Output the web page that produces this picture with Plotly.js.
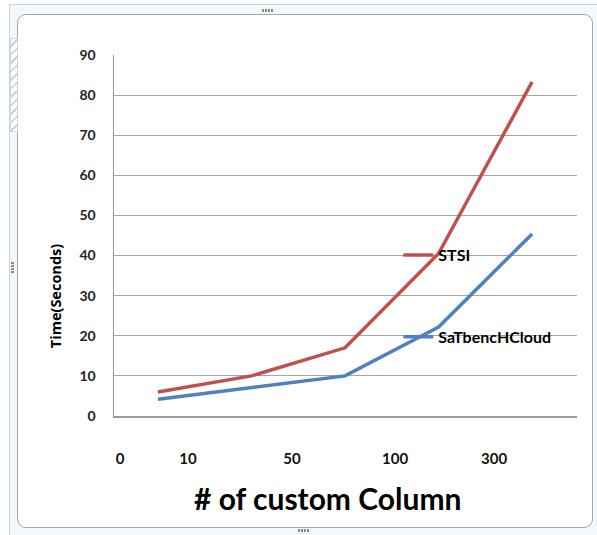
<!DOCTYPE html>
<html>
<head>
<meta charset="utf-8">
<script src="https://cdn.plot.ly/plotly-3.0.1.min.js"></script>
<style>
  html, body { margin: 0; padding: 0; background: #ffffff; }
  #wrap { position: relative; width: 597px; height: 535px; overflow: hidden; background: #ffffff; }
  #sheet { position: absolute; left: 9px; top: 4px; width: 600px; height: 540px; border-left: 1px solid #c9d7e2; border-top: 1px solid #c9d7e2; background: #f3f8fb; }
  #frame { position: absolute; left: 17px; top: 14px; width: 574px; height: 512px; border: 1px solid #a6a6a6; border-radius: 9px; background: #ffffff; }
  #hatch { position: absolute; left: 10px; top: 38px; width: 6px; height: 92px; border: 1px solid #c9d7e2;
           background: repeating-linear-gradient(135deg, #ffffff 0 4px, #c8d2da 4px 6px); }
  .dots { position: absolute; width: 12px; height: 3px; background: repeating-linear-gradient(90deg, #8a8a8a 0 2px, transparent 2px 3px); }
  .vdots { position: absolute; width: 3px; height: 12px; background: repeating-linear-gradient(180deg, #8a8a8a 0 2px, transparent 2px 3px); }
  #chart { position: absolute; left: 0; top: 0; width: 597px; height: 535px; }
</style>
</head>
<body>
<div id="wrap">
  <div id="sheet"></div>
  <div id="frame"></div>
  <div id="hatch"></div>
  <div class="dots" style="left:262px;top:9px;"></div>
  <div class="dots" style="left:298px;top:529px;"></div>
  <div class="vdots" style="left:11px;top:262px;"></div>
  <div id="chart"></div>
</div>
<script>
// ---- data ----
const categories = ["0", "10", "50", "100", "300"];
const pointIndex = [0, 1, 2, 3, 4];
const stsiTimes = [6, 10, 17, 40.5, 83.3];
const satbenchTimes = [4.2, 7.2, 10, 22.2, 45.4];
const seriesNames = ["STSI", "SaTbencHCloud"];
const yTickValues = [0, 10, 20, 30, 40, 50, 60, 70, 80, 90];

// ---- layout helpers (positions only) ----
const categoryTickPositions = [-0.406, 0.321, 1.433, 2.535, 3.594];

const traces = [
  {
    x: pointIndex, y: stsiTimes, name: seriesNames[0], type: "scatter", mode: "lines",
    line: { color: "#C0504D", width: 3.5 }, legendgroup: "a", hoverinfo: "y"
  },
  {
    x: pointIndex, y: satbenchTimes, name: seriesNames[1], type: "scatter", mode: "lines",
    line: { color: "#4F81BD", width: 3.5 }, legendgroup: "b", hoverinfo: "y"
  }
];

const layout = {
  width: 597, height: 535,
  margin: { l: 114, r: 20, t: 55, b: 119 },
  paper_bgcolor: "rgba(0,0,0,0)",
  plot_bgcolor: "rgba(0,0,0,0)",
  font: { family: "Lato, 'Open Sans', sans-serif", color: "#1a1a1a" },
  showlegend: true,
  legend: {
    x: 0.614, y: 0.493, xanchor: "left", yanchor: "top",
    bgcolor: "rgba(0,0,0,0)", borderwidth: 0,
    traceorder: "grouped", tracegroupgap: 58,
    font: { family: "Lato, sans-serif", size: 16, color: "#000000", weight: "bold" }
  },
  xaxis: {
    range: [-0.47, 4.48],
    tickmode: "array", tickvals: categoryTickPositions, ticktext: categories,
    ticks: "", showgrid: false, zeroline: false,
    showline: true, linecolor: "#9a9a9a", linewidth: 1.5,
    ticklabelstandoff: 28,
    tickfont: { family: "Lato, sans-serif", size: 15, color: "#111111", weight: "bold" },
    fixedrange: true
  },
  yaxis: {
    range: [0, 90],
    tickmode: "array", tickvals: yTickValues,
    ticks: "", showgrid: true, gridcolor: "#a6a6a6", gridwidth: 1.2,
    zeroline: false, showline: true, linecolor: "#9a9a9a", linewidth: 1.5,
    ticklabelstandoff: 14,
    tickfont: { family: "Lato, sans-serif", size: 14, color: "#222222", weight: "bold" },
    fixedrange: true
  },
  annotations: [
    {
      text: "Time(Seconds)", xref: "paper", yref: "paper", x: -0.1274, y: 0.332,
      showarrow: false, textangle: -90, xanchor: "center", yanchor: "middle",
      font: { family: "'Open Sans', sans-serif", size: 14.5, color: "#000000", weight: "bold" }
    },
    {
      text: "# of custom Column", xref: "paper", yref: "paper", x: 0.462, y: -0.227,
      showarrow: false, xanchor: "center", yanchor: "middle",
      font: { family: "Lato, sans-serif", size: 30, color: "#000000", weight: "bold" }
    }
  ]
};

Plotly.newPlot("chart", traces, layout, { displayModeBar: false, staticPlot: true });
</script>
</body>
</html>
